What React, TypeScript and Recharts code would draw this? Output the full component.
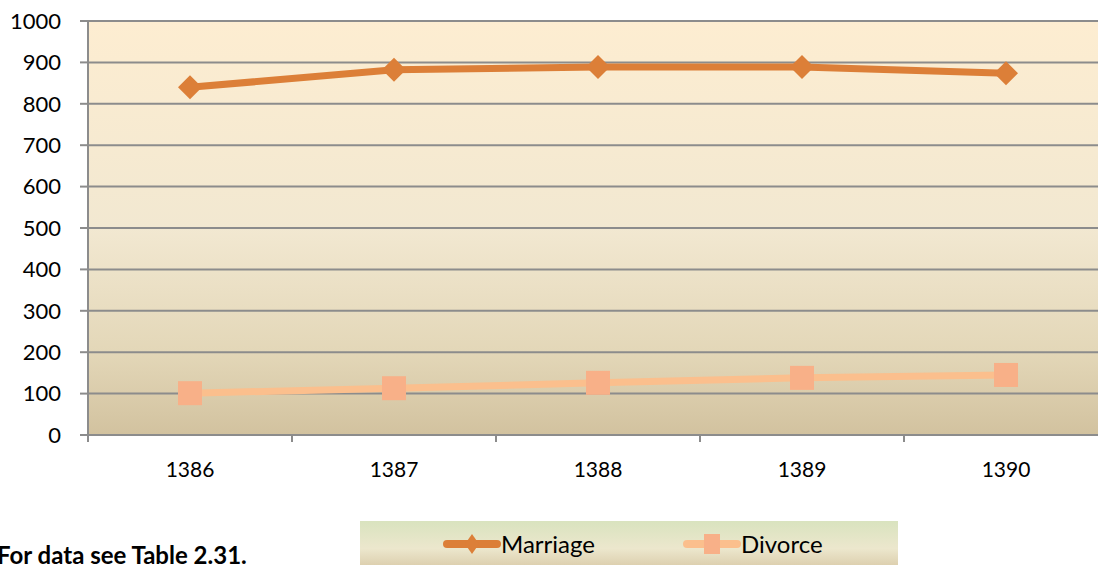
import { LineChart, Line, XAxis, YAxis, CartesianGrid } from 'recharts';

const years = ['1386', '1387', '1388', '1389', '1390'];
const marriage = [840, 882, 889, 889, 874];
const divorce = [101, 113, 126, 138, 145];
const yTicks = [0, 100, 200, 300, 400, 500, 600, 700, 800, 900, 1000];

const data = years.map((y, i) => ({ year: y, Marriage: marriage[i], Divorce: divorce[i] }));

const FONT = 'Lato, "Open Sans", "Liberation Sans", sans-serif';
const MARRIAGE = '#dc7f38';
const DIVORCE_LINE = '#fbbf8d';
const DIVORCE_MARK = '#f8b088';
const GRID = '#8c8c8c';

const Diamond = (props: any) => {
  const { cx, cy } = props;
  if (cx == null || cy == null) return null;
  const r = 12;
  return (
    <path
      d={`M${cx},${cy - r} L${cx + r},${cy} L${cx},${cy + r} L${cx - r},${cy} Z`}
      fill={MARRIAGE}
    />
  );
};

const Square = (props: any) => {
  const { cx, cy } = props;
  if (cx == null || cy == null) return null;
  return <rect x={cx - 12} y={cy - 12} width={24} height={24} fill={DIVORCE_MARK} />;
};

// year label plus the small tick marks on the category boundaries
const YearTick = (props: any) => {
  const { x, y, payload, index, width, visibleTicksCount } = props;
  const half = width && visibleTicksCount ? width / visibleTicksCount / 2 : 102;
  const last = index === visibleTicksCount - 1;
  return (
    <g>
      <line x1={x - half} y1={y} x2={x - half} y2={y + 7} stroke={GRID} strokeWidth={2} />
      {last && <line x1={x + half} y1={y} x2={x + half} y2={y + 7} stroke={GRID} strokeWidth={2} />}
      <text x={x} y={y + 42} textAnchor="middle" fontSize={21} fill="#000" fontFamily={FONT}>
        {payload.value}
      </text>
    </g>
  );
};

export default function App() {
  return (
    <div style={{ position: 'absolute', left: 0, top: 0, width: 1098, height: 565, overflow: 'hidden', background: '#fff', fontFamily: FONT }}>
      <LineChart width={1120} height={565} data={data} margin={{ top: 21, right: 12, left: 0, bottom: 72 }}>
        <defs>
          <linearGradient id="plotBg" x1="0" y1="0" x2="0" y2="1">
            <stop offset="0%" stopColor="#fdedd1" />
            <stop offset="50%" stopColor="#f2e8d1" />
            <stop offset="80%" stopColor="#e3d7b8" />
            <stop offset="100%" stopColor="#d2c29f" />
          </linearGradient>
        </defs>
        <CartesianGrid vertical={false} stroke={GRID} strokeWidth={2} fill="url(#plotBg)" />
        <XAxis
          dataKey="year"
          height={58}
          padding={{ left: 102, right: 102 }}
          interval={0}
          axisLine={{ stroke: GRID, strokeWidth: 2 }}
          tickLine={false}
          tickSize={0}
          tickMargin={0}
          tick={<YearTick />}
        />
        <YAxis
          width={88}
          domain={[0, 1000]}
          ticks={yTicks}
          interval={0}
          axisLine={{ stroke: GRID, strokeWidth: 2 }}
          tickLine={{ stroke: GRID, strokeWidth: 2 }}
          tickSize={8}
          tick={{ fontSize: 22, fill: '#000', fontFamily: FONT, dx: -17 }}
        />
        <Line
          dataKey="Marriage"
          stroke={MARRIAGE}
          strokeWidth={7}
          dot={<Diamond />}
          activeDot={false}
          isAnimationActive={false}
        />
        <Line
          dataKey="Divorce"
          stroke={DIVORCE_LINE}
          strokeWidth={7}
          dot={<Square />}
          activeDot={false}
          isAnimationActive={false}
        />
      </LineChart>

      <div
        style={{
          position: 'absolute',
          left: 360,
          top: 521,
          width: 538,
          height: 50,
          background: 'linear-gradient(#d9e3bf, #ece7cd 55%, #d8c8a5)',
        }}
      >
        <div style={{ position: 'absolute', left: 83, top: 11, display: 'flex', alignItems: 'center' }}>
          <svg width={58} height={24}>
            <line x1={4} y1={12} x2={54} y2={12} stroke={MARRIAGE} strokeWidth={8} strokeLinecap="round" />
            <path d="M29,2 L36,12 L29,22 L22,12 Z" fill={MARRIAGE} />
          </svg>
          <span style={{ fontSize: 24, color: '#000', lineHeight: '24px' }}>Marriage</span>
        </div>
        <div style={{ position: 'absolute', left: 323, top: 11, display: 'flex', alignItems: 'center' }}>
          <svg width={58} height={24}>
            <line x1={4} y1={12} x2={54} y2={12} stroke={DIVORCE_LINE} strokeWidth={8} strokeLinecap="round" />
            <rect x={21} y={2} width={16} height={20} fill={DIVORCE_MARK} />
          </svg>
          <span style={{ fontSize: 24, color: '#000', lineHeight: '24px' }}>Divorce</span>
        </div>
      </div>

      <div style={{ position: 'absolute', left: -3, top: 543, fontSize: 24, fontWeight: 700, color: '#000', whiteSpace: 'nowrap', lineHeight: '24px' }}>
        For data see Table 2.31.
      </div>
    </div>
  );
}
